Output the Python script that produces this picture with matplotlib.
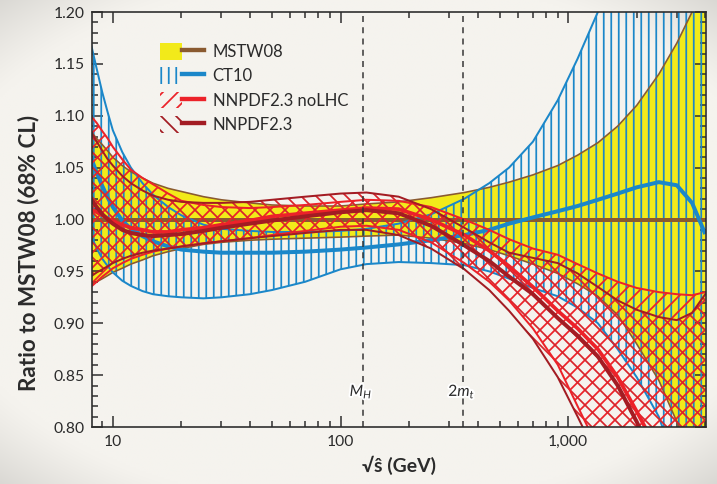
import numpy as np
import matplotlib
matplotlib.use("Agg")
import matplotlib.pyplot as plt
from matplotlib.patches import Patch
from matplotlib.lines import Line2D
from matplotlib.legend_handler import HandlerTuple
import matplotlib.patheffects as pe
from matplotlib.ticker import FixedLocator, MultipleLocator, LogLocator, NullFormatter, FormatStrFormatter

# ---------------- data ----------------
sqrt_s = [8, 8.5, 9, 9.5, 10, 11, 12, 13.5, 15, 17.5, 20, 25, 30, 40, 50, 70, 100, 130,
          180, 250, 350, 450, 550, 700, 900, 1100, 1350, 1650, 2000, 2500, 3000, 3500, 4000]

mstw_central = [1.0] * 33
mstw_up = [1.085, 1.078, 1.072, 1.066, 1.060, 1.052, 1.046, 1.040, 1.035, 1.030, 1.027, 1.022, 1.019,
           1.016, 1.014, 1.013, 1.013, 1.015, 1.017, 1.021, 1.026, 1.031, 1.036, 1.043, 1.052, 1.062,
           1.074, 1.090, 1.110, 1.140, 1.170, 1.200, 1.235]
mstw_lo = [0.937, 0.940, 0.943, 0.946, 0.949, 0.953, 0.957, 0.961, 0.965, 0.969, 0.972, 0.976, 0.978,
           0.980, 0.981, 0.982, 0.983, 0.984, 0.985, 0.982, 0.977, 0.971, 0.965, 0.957, 0.948, 0.938,
           0.926, 0.908, 0.880, 0.845, 0.805, 0.770, 0.735]

ct10_central = [1.060, 1.045, 1.032, 1.021, 1.012, 0.999, 0.991, 0.984, 0.979, 0.974, 0.971, 0.969, 0.968,
                0.968, 0.968, 0.969, 0.971, 0.973, 0.976, 0.980, 0.985, 0.990, 0.996, 1.002, 1.008, 1.013,
                1.019, 1.025, 1.031, 1.036, 1.033, 1.016, 0.986]
ct10_up = [1.170, 1.145, 1.122, 1.103, 1.086, 1.065, 1.050, 1.035, 1.024, 1.012, 1.004, 0.995, 0.991,
           0.989, 0.988, 0.988, 0.989, 0.991, 0.996, 1.005, 1.020, 1.035, 1.050, 1.075, 1.115, 1.155,
           1.200, 1.250, 1.300, 1.380, 1.450, 1.520, 1.600]
ct10_lo = [0.985, 0.972, 0.962, 0.955, 0.949, 0.941, 0.936, 0.931, 0.928, 0.926, 0.925, 0.924, 0.925,
           0.928, 0.932, 0.940, 0.952, 0.957, 0.959, 0.958, 0.956, 0.950, 0.943, 0.934, 0.926, 0.915,
           0.900, 0.875, 0.848, 0.810, 0.760, 0.720, 0.680]

nolhc_central = [1.010, 1.007, 1.004, 1.001, 0.998, 0.995, 0.992, 0.990, 0.988, 0.988, 0.990, 0.992, 0.995,
                 0.999, 1.003, 1.006, 1.009, 1.011, 1.010, 1.000, 0.985, 0.970, 0.955, 0.935, 0.912, 0.895,
                 0.875, 0.848, 0.815, 0.775, 0.740, 0.710, 0.680]
nolhc_up = [1.100, 1.093, 1.085, 1.078, 1.070, 1.058, 1.048, 1.040, 1.034, 1.025, 1.018, 1.014, 1.012,
            1.011, 1.012, 1.014, 1.017, 1.019, 1.018, 1.012, 1.000, 0.990, 0.981, 0.972, 0.966, 0.957,
            0.948, 0.940, 0.934, 0.930, 0.928, 0.927, 0.930]
nolhc_lo = [0.935, 0.940, 0.945, 0.949, 0.953, 0.958, 0.962, 0.966, 0.969, 0.972, 0.974, 0.977, 0.979,
            0.982, 0.985, 0.989, 0.993, 0.994, 0.990, 0.978, 0.958, 0.940, 0.922, 0.895, 0.860, 0.820,
            0.780, 0.740, 0.700, 0.650, 0.610, 0.580, 0.550]

nnpdf_central = [1.020, 1.012, 1.005, 1.000, 0.996, 0.990, 0.987, 0.985, 0.984, 0.985, 0.986, 0.989, 0.992,
                 0.996, 0.999, 1.003, 1.007, 1.009, 1.006, 0.994, 0.975, 0.960, 0.945, 0.928, 0.905, 0.888,
                 0.868, 0.840, 0.805, 0.760, 0.720, 0.690, 0.660]
nnpdf_up = [1.085, 1.075, 1.066, 1.058, 1.052, 1.042, 1.035, 1.028, 1.023, 1.019, 1.017, 1.016, 1.016,
            1.017, 1.019, 1.022, 1.025, 1.026, 1.022, 1.010, 0.992, 0.978, 0.968, 0.963, 0.958, 0.948,
            0.935, 0.922, 0.913, 0.906, 0.903, 0.910, 0.928]
nnpdf_lo = [0.945, 0.949, 0.952, 0.955, 0.958, 0.962, 0.965, 0.968, 0.970, 0.972, 0.974, 0.977, 0.979,
            0.982, 0.984, 0.987, 0.990, 0.990, 0.985, 0.972, 0.952, 0.932, 0.912, 0.885, 0.848, 0.810,
            0.770, 0.730, 0.690, 0.640, 0.600, 0.570, 0.550]

m_higgs = 125
two_mtop = 346
x_ticks = [10, 100, 1000]
x_tick_labels = ["10", "100", "1,000"]
legend_labels = ["MSTW08", "CT10", "NNPDF2.3 noLHC", "NNPDF2.3"]

# ---------------- style ----------------
YELLOW = "#f2ea1a"
BROWN = "#8a5a30"
BLUE = "#1b87c9"
RED = "#ec2229"
DARKRED = "#a31c23"
INK = "#2b2b2b"

plt.rcParams["font.family"] = ["Lato", "DejaVu Sans"]
plt.rcParams["mathtext.fontset"] = "custom"
plt.rcParams["mathtext.rm"] = "Lato"
plt.rcParams["mathtext.it"] = "Lato:italic"
plt.rcParams["hatch.linewidth"] = 1.4

DPI = 90
fig = plt.figure(figsize=(717 / DPI, 484 / DPI), dpi=DPI)

# soft vignette background (darker corners)
bg = fig.add_axes([0, 0, 1, 1], zorder=-10)
yy, xx = np.mgrid[-1:1:240j, -1:1:360j]
r = np.sqrt((xx * 0.88) ** 2 + (yy * 0.95) ** 2)
shade = 1 - 0.14 * np.clip((r - 1.05) / 0.3, 0, 1) ** 1.2
base = np.array([245, 243, 238]) / 255.0
img = base[None, None, :] * shade[:, :, None]
bg.imshow(img, aspect="auto", extent=[0, 1, 0, 1], interpolation="bilinear")
bg.set_axis_off()

ax = fig.add_axes([92 / 717, 57 / 484, 614 / 717, 415 / 484])
ax.set_facecolor("none")
ax.set_xscale("log")

# MSTW08 band
ax.fill_between(sqrt_s, mstw_lo, mstw_up, facecolor=YELLOW, edgecolor="none", zorder=1)
# CT10 hatch
ax.fill_between(sqrt_s, ct10_lo, ct10_up, facecolor="none", edgecolor=BLUE, hatch="||",
                linewidth=0, zorder=2)
# MSTW lines
ax.plot(sqrt_s, mstw_up, color=BROWN, lw=1.3, zorder=3)
ax.plot(sqrt_s, mstw_lo, color=BROWN, lw=1.3, zorder=3)
ax.plot(sqrt_s, mstw_central, color=BROWN, lw=3.2, zorder=3)
# CT10 lines
ax.plot(sqrt_s, ct10_up, color=BLUE, lw=1.6, zorder=4)
ax.plot(sqrt_s, ct10_lo, color=BLUE, lw=1.6, zorder=4)
ax.plot(sqrt_s, ct10_central, color=BLUE, lw=3.2, zorder=4, solid_capstyle="butt")
# NNPDF bands
ax.fill_between(sqrt_s, nolhc_lo, nolhc_up, facecolor="none", edgecolor=RED, hatch="//",
                linewidth=0, zorder=5)
ax.fill_between(sqrt_s, nnpdf_lo, nnpdf_up, facecolor="none", edgecolor="#d8242b", hatch="\\\\",
                linewidth=0, zorder=5)
ax.plot(sqrt_s, nolhc_up, color=RED, lw=1.6, zorder=6)
ax.plot(sqrt_s, nolhc_lo, color=RED, lw=1.6, zorder=6)
ax.plot(sqrt_s, nnpdf_up, color=DARKRED, lw=1.6, zorder=6)
ax.plot(sqrt_s, nnpdf_lo, color=DARKRED, lw=1.6, zorder=6)
ax.plot(sqrt_s, nolhc_central, color=RED, lw=3.0, zorder=7)
ax.plot(sqrt_s, nnpdf_central, color=DARKRED, lw=3.2, zorder=7)

# reference lines
for xv, lab in [(m_higgs, r"$M_H$"), (two_mtop, r"$2m_t$")]:
    ax.axvline(xv, color="#333333", lw=1.2, ls=(0, (4, 3.5)), zorder=8)
    ax.text(xv * 0.985, 0.834, lab, ha="center", va="center", fontsize=12.5, color=INK, zorder=9,
            path_effects=[pe.withStroke(linewidth=3, foreground="white")])

ax.set_xlim(8.1, 4030)
ax.set_ylim(0.80, 1.20)

ax.xaxis.set_major_locator(FixedLocator(x_ticks))
ax.set_xticklabels(x_tick_labels)
ax.xaxis.set_minor_locator(LogLocator(base=10, subs=[2, 3, 4, 5, 6, 7, 8, 9]))
ax.xaxis.set_minor_formatter(NullFormatter())
ax.yaxis.set_major_locator(MultipleLocator(0.05))
ax.yaxis.set_minor_locator(MultipleLocator(0.01))
ax.yaxis.set_major_formatter(FormatStrFormatter("%.2f"))

ax.tick_params(which="both", direction="in", top=True, right=True, colors=INK,
               labelsize=12.5, width=1.2)
ax.tick_params(which="major", length=9, pad=6)
ax.tick_params(which="minor", length=5)
for s in ax.spines.values():
    s.set_color(INK)
    s.set_linewidth(1.3)
    s.set_zorder(10)

ax.set_ylabel("Ratio to MSTW08 (68% CL)", fontsize=18, fontweight="bold", color=INK)
ax.yaxis.set_label_coords(-0.085, 0.42)
ax.set_xlabel("√ŝ (GeV)", fontsize=15.5, fontweight="bold", color=INK, labelpad=6)

# legend
handles = [
    (Patch(facecolor=YELLOW, edgecolor="none"), Line2D([], [], color=BROWN, lw=3.5)),
    (Patch(facecolor="none", edgecolor=BLUE, hatch="||", lw=0), Line2D([], [], color=BLUE, lw=3.5)),
    (Patch(facecolor="none", edgecolor=RED, hatch="//", lw=0), Line2D([], [], color=RED, lw=3.5)),
    (Patch(facecolor="none", edgecolor=DARKRED, hatch="\\\\", lw=0), Line2D([], [], color=DARKRED, lw=3.5)),
]
leg = ax.legend(handles, legend_labels, handler_map={tuple: HandlerTuple(ndivide=None)},
                loc="upper left", bbox_to_anchor=(0.111, 0.925), frameon=False, fontsize=13.3,
                handlelength=2.65, handleheight=1.15, labelspacing=0.45, handletextpad=0.5,
                borderpad=0, borderaxespad=0)
for t in leg.get_texts():
    t.set_color(INK)
leg.set_zorder(12)

fig.savefig("out.png", dpi=DPI)
